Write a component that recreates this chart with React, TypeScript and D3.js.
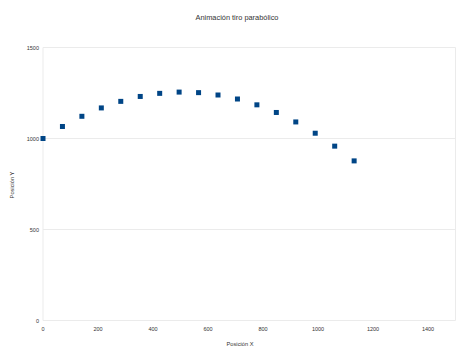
import React from "react";
import * as d3 from "d3";

const xValues = [0, 70.7, 141.4, 212.1, 282.8, 353.6, 424.3, 495, 565.7, 636.4, 707.1, 777.8, 848.5, 919.2, 989.9, 1060.7, 1131.4];
const yValues = [1000, 1066, 1122, 1168, 1204, 1231, 1248, 1255, 1252, 1239, 1217, 1185, 1143, 1091, 1029, 958, 877];
const xTicks = [0, 200, 400, 600, 800, 1000, 1200, 1400];
const yTicks = [0, 500, 1000, 1500];
const title = "Animación tiro parabólico";
const xTitle = "Posición X";
const yTitle = "Posición Y";

export default function App() {
  const W = 474, H = 355;
  const left = 43, right = 455.5, top = 47.5, bottom = 320.5;
  const x = d3.scaleLinear().domain([0, 1500]).range([left, right]);
  const y = d3.scaleLinear().domain([0, 1500]).range([bottom, top]);
  const font = "'Liberation Sans', Arial, sans-serif";
  const data = xValues.map((v, i) => ({ x: v, y: yValues[i] }));
  return (
    <svg width={W} height={H} style={{ position: "absolute", left: 0, top: 0, background: "#fff" }}>
      <rect x={0} y={0} width={W} height={H} fill="#fff" />
      {yTicks.map((t) => (
        <line key={"g" + t} x1={left} x2={right} y1={y(t)} y2={y(t)} stroke="#ebebeb" strokeWidth={1} />
      ))}
      <line x1={left} x2={left} y1={top} y2={bottom} stroke="#ebebeb" />
      <line x1={right} x2={right} y1={top} y2={bottom} stroke="#ebebeb" />
      {yTicks.map((t) => (
        <text key={"yl" + t} x={left - 4} y={y(t) + 2} fontSize={5.5} fontFamily={font} textAnchor="end" fill="#333">{t}</text>
      ))}
      {xTicks.map((t) => (
        <text key={"xl" + t} x={x(t)} y={bottom + 10} fontSize={5.5} fontFamily={font} textAnchor="middle" fill="#333">{t}</text>
      ))}
      {data.map((d, i) => (
        <rect key={i} x={x(d.x) - 2.5} y={y(d.y) - 2.5} width={5} height={5} fill="#004586" />
      ))}
      <text x={237} y={19.5} fontSize={7.4} fontFamily={font} textAnchor="middle" fill="#333">{title}</text>
      <text x={240} y={345.5} fontSize={5.7} fontFamily={font} textAnchor="middle" fill="#333">{xTitle}</text>
      <text transform={`translate(14,${185}) rotate(-90)`} fontSize={5.7} fontFamily={font} textAnchor="middle" fill="#333">{yTitle}</text>
    </svg>
  );
}
